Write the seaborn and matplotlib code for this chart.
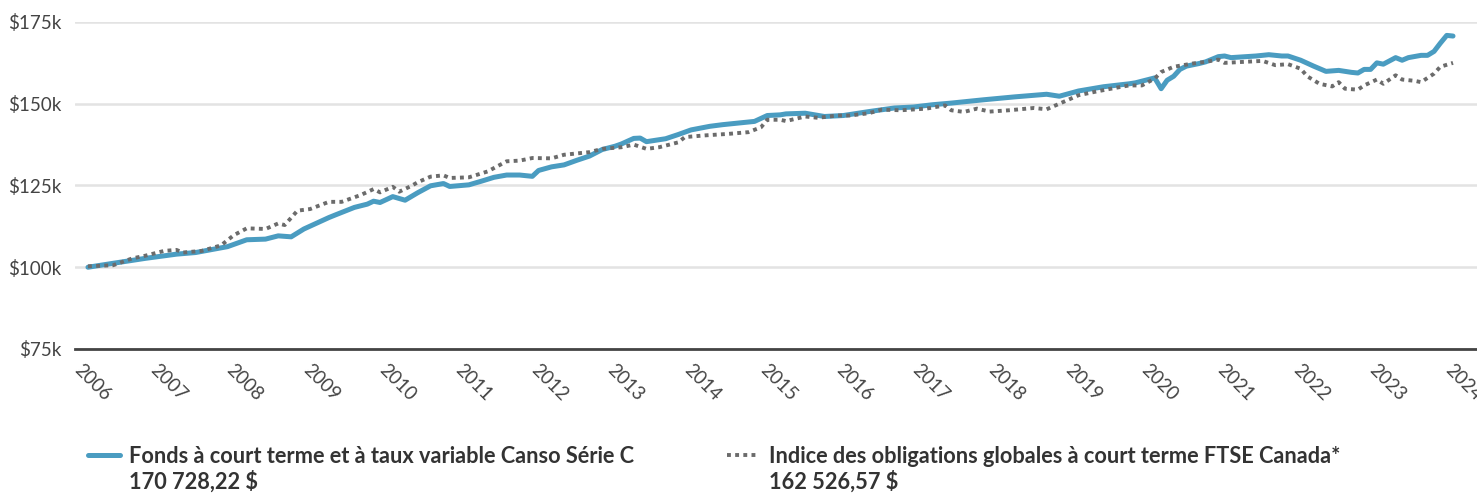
import pandas as pd
import seaborn as sns
import matplotlib.pyplot as plt
import matplotlib.dates as mdates
import matplotlib.transforms as mtransforms
from matplotlib.ticker import FuncFormatter

# Valeurs (mois depuis janvier 2006, valeur en milliers de $)
fund_name = "Fonds à court terme et à taux variable Canso Série C"
fund_amount = "170 728,22 $"
fund_months = [0, 4, 9, 14, 17, 22, 25, 28, 30, 32, 34, 38, 39, 42, 44, 45, 46, 48, 50, 52,
               54, 56, 57, 60, 62, 64, 66, 68, 70, 71, 73, 75, 77, 79, 81, 83, 84, 86, 87, 88,
               90, 91, 93, 95, 98, 100, 102, 105, 107, 109, 110, 113, 116, 119, 123, 127, 130, 133, 136, 141,
               146, 151, 153, 156, 160, 164, 165, 168, 169, 170, 171, 172, 173, 175, 176, 178, 179, 180, 184, 186,
               188, 189, 191, 193, 195, 197, 199, 200, 201, 202, 203, 204, 206, 207, 208, 210, 211, 212, 213, 214,
               215]
fund_values = [100.0, 101.2, 102.7, 104.0, 104.5, 106.3, 108.4, 108.6, 109.6, 109.3, 111.7, 115.2, 116.0, 118.3, 119.3, 120.2, 119.8, 121.6, 120.5, 122.8,
               124.9, 125.6, 124.7, 125.2, 126.3, 127.5, 128.2, 128.2, 127.8, 129.6, 130.7, 131.3, 132.7, 134.0, 136.0, 137.0, 137.7, 139.4, 139.5, 138.4,
               139.0, 139.3, 140.6, 142.0, 143.1, 143.6, 144.0, 144.6, 146.4, 146.6, 146.9, 147.1, 146.1, 146.4, 147.6, 148.7, 149.0, 149.7, 150.2, 151.2,
               152.1, 152.9, 152.3, 153.9, 155.2, 156.1, 156.4, 157.9, 154.6, 157.2, 158.4, 160.5, 161.5, 162.3, 162.8, 164.4, 164.6, 164.1, 164.6, 165.0,
               164.6, 164.6, 163.3, 161.5, 159.9, 160.2, 159.6, 159.4, 160.5, 160.5, 162.5, 162.1, 164.1, 163.3, 164.1, 164.8, 164.8, 166.0, 168.5, 170.9,
               170.7]

index_name = "Indice des obligations globales à court terme FTSE Canada*"
index_amount = "162 526,57 $"
index_months = [0, 4, 7, 9, 12, 14, 15, 18, 21, 23, 25, 28, 30, 31, 33, 35, 38, 40, 43, 45,
                46, 48, 49, 51, 52, 54, 56, 57, 60, 63, 66, 68, 70, 73, 75, 79, 81, 84, 86, 88,
                90, 93, 94, 97, 101, 104, 106, 107, 109, 110, 113, 115, 118, 120, 123, 125, 128, 132, 135, 136,
                138, 140, 142, 145, 149, 151, 153, 156, 159, 162, 164, 166, 168, 169, 171, 174, 176, 178, 179, 182,
                185, 187, 189, 191, 192, 194, 196, 197, 198, 200, 201, 203, 204, 206, 207, 209, 210, 212, 213, 215]
index_values = [100.3, 100.6, 102.7, 103.5, 105.0, 105.3, 104.5, 105.0, 106.7, 109.8, 111.9, 111.7, 113.4, 112.9, 117.3, 117.8, 120.0, 120.0, 122.1, 123.9,
                122.9, 124.6, 123.1, 124.9, 126.0, 127.7, 128.1, 127.3, 127.5, 129.3, 132.4, 132.6, 133.4, 133.3, 134.4, 135.2, 136.2, 136.7, 137.5, 136.2,
                136.7, 138.2, 139.8, 140.3, 140.8, 141.3, 142.8, 145.1, 145.1, 144.7, 146.1, 145.7, 146.4, 146.4, 147.1, 148.2, 148.0, 148.5, 149.5, 148.0,
                147.5, 148.5, 147.6, 148.0, 148.7, 148.3, 150.0, 152.6, 153.8, 154.9, 155.6, 155.6, 157.7, 159.7, 161.3, 162.3, 162.8, 163.5, 162.5, 162.8,
                163.1, 161.8, 162.1, 160.7, 158.4, 156.1, 155.3, 156.6, 154.6, 154.3, 155.6, 157.4, 156.1, 158.7, 157.4, 157.0, 156.6, 159.2, 161.3, 162.5]

start = pd.Timestamp("2006-01-01")


def to_frame(months, values):
    return pd.DataFrame({
        "date": [start + pd.DateOffset(months=m) for m in months],
        "valeur": [v * 1000 for v in values],
    })


df_fund = to_frame(fund_months, fund_values)
df_index = to_frame(index_months, index_values)

sns.set_theme(style="white")
plt.rcParams["font.family"] = ["Lato", "DejaVu Sans"]

fig = plt.figure(figsize=(14.77, 4.93), dpi=100)
ax = fig.add_axes([0.0508, 0.2921, 0.9492, 0.6633])

sns.lineplot(data=df_fund, x="date", y="valeur", ax=ax, color="#4a9cc1",
             linewidth=3.6, label=fund_name, solid_capstyle="round")
sns.lineplot(data=df_index, x="date", y="valeur", ax=ax, color="#6b6b6b",
             linewidth=2.8, linestyle=(0, (1, 1.1)), label=index_name)

ax.set_ylim(75000, 175000)
ax.set_yticks([75000, 100000, 125000, 150000, 175000])
ax.yaxis.set_major_formatter(FuncFormatter(lambda v, p: f"${v / 1000:.0f}k"))
ax.set_xlim(start - pd.Timedelta(days=62), start + pd.Timedelta(days=6658))
ax.xaxis.set_major_locator(mdates.YearLocator())
ax.xaxis.set_major_formatter(mdates.DateFormatter("%Y"))

ax.grid(axis="y", color="#e3e3e3", linewidth=1.8)
ax.set_axisbelow(True)
for s in ["left", "right", "top"]:
    ax.spines[s].set_visible(False)
ax.spines["bottom"].set_color("#444444")
ax.spines["bottom"].set_linewidth(2)
ax.set_xlabel("")
ax.set_ylabel("")

ax.tick_params(axis="y", length=0, pad=10, labelsize=13.5, labelcolor="#444444")
ax.tick_params(axis="x", length=0, pad=9, labelsize=13.5, labelcolor="#444444")
shift = mtransforms.ScaledTranslation(-5 / 100, 0, fig.dpi_scale_trans)
for lbl in ax.get_xticklabels():
    lbl.set_rotation(-45)
    lbl.set_ha("left")
    lbl.set_va("top")
    lbl.set_rotation_mode("anchor")
    lbl.set_transform(lbl.get_transform() + shift)

leg = ax.legend(loc="upper left", bbox_to_anchor=(88 / 1477, 1 - 446 / 493),
                bbox_transform=fig.transFigure, ncol=2, frameon=False,
                prop={"weight": "bold", "size": 15.7}, labelcolor="#333333",
                handlelength=1.45, handletextpad=0.45, columnspacing=4.25,
                borderpad=0, borderaxespad=0)

# montants sous chaque libellé
fig.canvas.draw()
W, H = fig.get_size_inches() * fig.dpi
for t, amount in zip(leg.get_texts(), [fund_amount, index_amount]):
    bb = t.get_window_extent()
    fig.text(bb.x0 / W, (bb.y0 - 22) / H, amount, ha="left", va="baseline",
             fontsize=15.7, fontweight="bold", color="#333333")

plt.savefig("out.png", dpi=100)
